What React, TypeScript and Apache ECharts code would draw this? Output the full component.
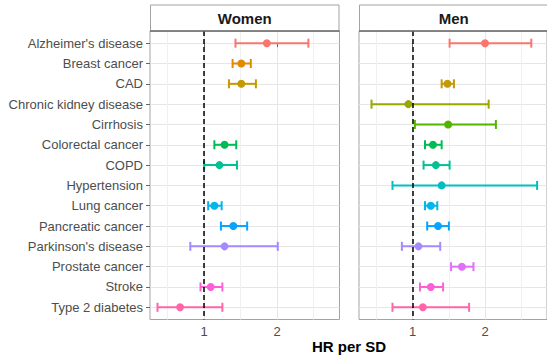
import React, { useEffect, useRef } from "react";
import * as echarts from "echarts";

const categories = [
  "Alzheimer's disease",
  "Breast cancer",
  "CAD",
  "Chronic kidney disease",
  "Cirrhosis",
  "Colorectal cancer",
  "COPD",
  "Hypertension",
  "Lung cancer",
  "Pancreatic cancer",
  "Parkinson's disease",
  "Prostate cancer",
  "Stroke",
  "Type 2 diabetes",
];

const colors = [
  "#F8766D", "#E38900", "#C49A00", "#99A800", "#53B400", "#00BC56", "#00C094",
  "#00BFC4", "#00B6EB", "#06A4FF", "#A58AFF", "#DF70F8", "#FB61D7", "#FF66A8",
];

const womenHR = [1.86, 1.51, 1.51, null, null, 1.28, 1.21, null, 1.14, 1.40, 1.28, null, 1.09, 0.67];
const womenLo = [1.43, 1.39, 1.34, null, null, 1.14, 1.0, null, 1.055, 1.23, 0.81, null, 0.95, 0.36];
const womenHi = [2.43, 1.64, 1.71, null, null, 1.44, 1.45, null, 1.24, 1.59, 2.01, null, 1.25, 1.25];

const menHR = [2.0, null, 1.48, 0.94, 1.49, 1.28, 1.32, 1.4, 1.25, 1.35, 1.08, 1.68, 1.25, 1.14];
const menLo = [1.51, null, 1.4, 0.43, 1.03, 1.17, 1.15, 0.72, 1.17, 1.2, 0.85, 1.53, 1.1, 0.72];
const menHi = [2.64, null, 1.57, 2.05, 2.15, 1.4, 1.51, 2.72, 1.34, 1.5, 1.38, 1.84, 1.42, 1.78];

const panels = ["Women", "Men"];
const xTicks = [1, 2];
const xMinor = [0.5, 1.5, 2.5];
const refLine = 1;

const X_MIN = 0.257;
const X_MAX = 2.857;
const FONT = "Liberation Sans, Arial, Helvetica, sans-serif";

export default function App() {
  const ref = useRef<HTMLDivElement>(null);

  useEffect(() => {
    if (!ref.current) return;
    const chart = echarts.init(ref.current, null, { renderer: "svg" });

    const panelData = [
      { hr: womenHR, lo: womenLo, hi: womenHi },
      { hr: menHR, lo: menLo, hi: menHi },
    ];
    const gridLefts = [150, 359];
    const gridWidth = 189.5;
    const gridTop = 31;
    const gridHeight = 288.5;
    const catIdx = categories.map((_, i) => i);

    const grids: any[] = [];
    const xAxes: any[] = [];
    const yAxes: any[] = [];
    const series: any[] = [];
    const graphics: any[] = [];

    panelData.forEach((pd, p) => {
      grids.push({
        left: gridLefts[p],
        top: gridTop,
        width: gridWidth,
        height: gridHeight,
        show: true,
        borderColor: "#a3a3a3",
        borderWidth: 1,
        backgroundColor: "#fff",
      });
      xAxes.push({
        type: "value",
        gridIndex: p,
        min: X_MIN,
        max: X_MAX,
        axisLine: { show: false },
        axisTick: { show: true, length: 4, lineStyle: { color: "#666", width: 1 }, customValues: xTicks },
        axisLabel: {
          show: true,
          customValues: xTicks,
          color: "#4d4d4d",
          fontSize: 13,
          fontFamily: FONT,
          margin: 5,
          formatter: (v: number) => String(v),
        },
        splitLine: { show: true, lineStyle: { color: "#e6e6e6", width: 1 } },
      });
      xAxes.push({
        type: "value",
        gridIndex: p,
        position: "top",
        min: X_MIN,
        max: X_MAX,
        axisLine: { show: false },
        axisTick: { show: false, customValues: xMinor },
        axisLabel: { show: false, customValues: xMinor },
        splitLine: { show: true, lineStyle: { color: "#f0f0f0", width: 1 } },
      });
      yAxes.push({
        type: "value",
        gridIndex: p,
        inverse: true,
        min: -0.6,
        max: 13.6,
        axisLine: { show: false },
        axisTick: {
          show: p === 0,
          length: 4,
          lineStyle: { color: "#666", width: 1 },
          customValues: catIdx,
        },
        axisLabel: {
          show: p === 0,
          customValues: catIdx,
          color: "#4d4d4d",
          fontSize: 13,
          fontFamily: FONT,
          margin: 7,
          formatter: (v: number) => categories[Math.round(v)] ?? "",
        },
        splitLine: { show: true, lineStyle: { color: "#e6e6e6", width: 1 } },
      });

      const barData: any[] = [];
      const ptData: any[] = [];
      categories.forEach((_, i) => {
        if (pd.hr[i] == null) return;
        barData.push([pd.lo[i], pd.hi[i], i]);
        ptData.push([pd.hr[i], i]);
      });

      series.push({
        type: "custom",
        xAxisIndex: p * 2,
        yAxisIndex: p,
        silent: true,
        z: 3,
        renderItem: (params: any, api: any) => {
          const lo = api.value(0);
          const hi = api.value(1);
          const yi = api.value(2);
          const a = api.coord([lo, yi]);
          const b = api.coord([hi, yi]);
          const c = colors[yi];
          const style = { stroke: c, lineWidth: 2 };
          const cap = 4.5;
          return {
            type: "group",
            children: [
              { type: "line", shape: { x1: a[0], y1: a[1], x2: b[0], y2: b[1] }, style },
              { type: "line", shape: { x1: a[0], y1: a[1] - cap, x2: a[0], y2: a[1] + cap }, style },
              { type: "line", shape: { x1: b[0], y1: b[1] - cap, x2: b[0], y2: b[1] + cap }, style },
            ],
          };
        },
        data: barData,
      });

      series.push({
        type: "scatter",
        xAxisIndex: p * 2,
        yAxisIndex: p,
        silent: true,
        z: 4,
        symbol: "circle",
        symbolSize: 8,
        itemStyle: { color: (params: any) => colors[params.data[1]], opacity: 1 },
        data: ptData,
        markLine: {
          silent: true,
          symbol: ["none", "none"],
          label: { show: false },
          lineStyle: { type: [5, 3], color: "#000", width: 1.5 },
          data: [{ xAxis: refLine }],
          z: 5,
        },
      });

      graphics.push({
        type: "rect",
        shape: { x: gridLefts[p] + 0.5, y: 5, width: gridWidth - 1, height: gridTop - 5 },
        style: { fill: "#fff", stroke: "#a3a3a3", lineWidth: 1 },
        z: 1,
      });
      graphics.push({
        type: "line",
        shape: { x1: gridLefts[p], y1: gridTop, x2: gridLefts[p] + gridWidth, y2: gridTop },
        style: { stroke: "#6e6e6e", lineWidth: 1.5 },
        z: 100,
      });
      graphics.push({
        type: "text",
        x: gridLefts[p] + gridWidth / 2,
        y: 18.5,
        style: {
          text: panels[p],
          fill: "#1a1a1a",
          font: `bold 15px ${FONT}`,
          align: "center",
          verticalAlign: "middle",
        },
        z: 2,
      });
    });

    graphics.push({
      type: "text",
      x: 349,
      y: 346,
      style: {
        text: "HR per SD",
        fill: "#000",
        font: `bold 15px ${FONT}`,
        align: "center",
        verticalAlign: "middle",
      },
    });

    chart.setOption({
      animation: false,
      backgroundColor: "#fff",
      grid: grids,
      xAxis: xAxes,
      yAxis: yAxes,
      series,
      graphic: graphics,
    });

    return () => chart.dispose();
  }, []);

  return (
    <div
      ref={ref}
      style={{ position: "fixed", left: 0, top: 0, width: 547, height: 356 }}
    />
  );
}
